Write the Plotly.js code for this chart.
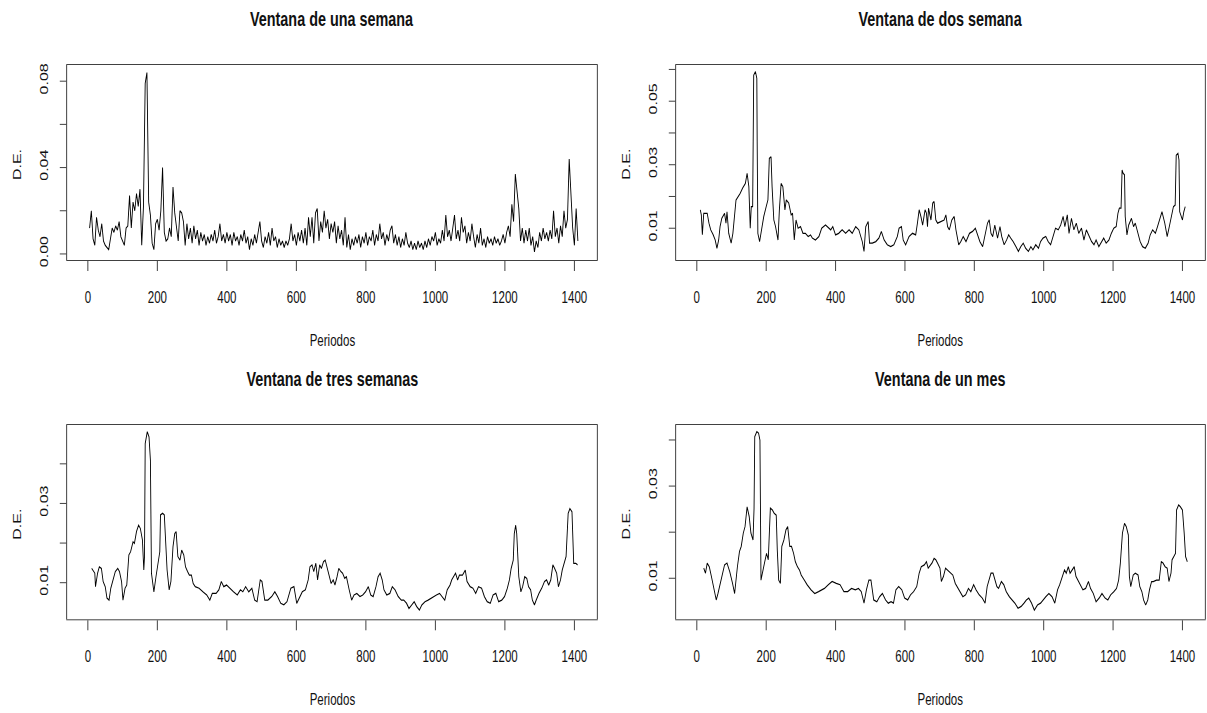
<!DOCTYPE html>
<html>
<head>
<meta charset="utf-8">
<script src="https://cdn.plot.ly/plotly-3.0.1.min.js"></script>
<style>
html, body { margin:0; padding:0; overflow:hidden; background:#fff; }
#wrap { width:1207px; height:713px; overflow:hidden; position:relative; }
#chart { position:absolute; left:0; top:0; transform-origin:0 0; }
</style>
</head>
<body>
<div id="wrap"><div id="chart"></div></div>
<script>
// ---------- DATA ----------
// Panel 1: one-week window, periods 5..1410 every 5 periods
const p1Start = 5, p1Step = 5;
const de1 = [
0.012,0.020,0.007,0.004,0.017,0.011,0.008,0.014,0.006,0.004,0.003,0.002,0.007,0.012,0.010,0.013,0.011,0.015,0.008,0.006,
0.004,0.012,0.013,0.027,0.012,0.024,0.020,0.028,0.022,0.030,0.004,0.022,0.079,0.084,0.024,0.018,0.005,0.002,0.014,0.016,
0.011,0.020,0.040,0.010,0.006,0.007,0.012,0.008,0.031,0.019,0.012,0.006,0.020,0.019,0.015,0.004,0.014,0.007,0.012,0.005,
0.013,0.007,0.011,0.004,0.010,0.006,0.009,0.004,0.008,0.005,0.009,0.006,0.011,0.005,0.008,0.014,0.006,0.009,0.005,0.010,
0.006,0.009,0.004,0.010,0.006,0.008,0.004,0.009,0.006,0.011,0.005,0.008,0.002,0.007,0.004,0.009,0.005,0.010,0.015,0.006,
0.003,0.008,0.005,0.010,0.004,0.012,0.006,0.008,0.003,0.007,0.004,0.006,0.003,0.006,0.004,0.007,0.014,0.006,0.009,0.004,
0.010,0.006,0.011,0.005,0.012,0.004,0.017,0.008,0.017,0.005,0.019,0.021,0.006,0.015,0.010,0.020,0.012,0.016,0.007,0.014,
0.010,0.015,0.005,0.013,0.007,0.011,0.004,0.017,0.003,0.009,0.002,0.007,0.004,0.008,0.005,0.009,0.003,0.008,0.005,0.010,
0.004,0.008,0.006,0.011,0.004,0.009,0.006,0.014,0.007,0.010,0.004,0.009,0.006,0.011,0.013,0.005,0.009,0.004,0.008,0.003,
0.007,0.004,0.010,0.005,0.003,0.006,0.002,0.005,0.002,0.006,0.003,0.005,0.002,0.006,0.003,0.007,0.004,0.008,0.006,0.010,
0.004,0.007,0.005,0.011,0.006,0.018,0.008,0.011,0.006,0.012,0.018,0.007,0.011,0.006,0.017,0.010,0.013,0.005,0.010,0.006,
0.014,0.008,0.003,0.009,0.005,0.012,0.004,0.007,0.003,0.008,0.005,0.007,0.004,0.008,0.005,0.007,0.004,0.006,0.009,0.005,
0.010,0.013,0.008,0.023,0.015,0.037,0.028,0.021,0.006,0.012,0.005,0.011,0.006,0.012,0.004,0.008,0.001,0.006,0.003,0.010,
0.006,0.012,0.007,0.010,0.006,0.011,0.007,0.020,0.008,0.012,0.005,0.013,0.008,0.020,0.012,0.016,0.044,0.028,0.012,0.004,
0.021,0.006
];

// Panel 2: two-week window
const per2 = [10,13,16,20,25,30,35,40,47,53,58,63,67,72,80,84,87,92,99,104,113,120,125,132,140,145,150,154,157,161,164,169,173,174,176,181,187,193,200,205,209,214,217,222,227,231,234,238,243,248,254,258,265,272,276,281,286,292,299,306,313,321,328,333,342,352,360,371,377,386,392,400,409,419,429,439,448,458,467,477,482,487,494,498,506,516,525,532,540,549,559,568,578,583,590,595,602,612,622,631,636,641,646,651,658,662,665,668,675,680,684,689,694,703,713,718,723,728,735,742,747,755,761,768,776,786,795,803,810,816,824,832,838,843,848,853,859,867,874,879,886,893,899,905,912,920,927,934,941,948,956,963,969,977,985,991,998,1006,1013,1020,1027,1034,1042,1049,1056,1061,1068,1073,1080,1087,1094,1101,1109,1116,1123,1130,1138,1145,1151,1159,1167,1173,1180,1188,1195,1202,1209,1214,1218,1223,1226,1229,1233,1235,1240,1245,1253,1259,1264,1272,1278,1285,1293,1301,1307,1314,1322,1328,1336,1341,1349,1356,1363,1370,1374,1379,1382,1387,1390,1392,1396,1400,1404,1408];
const de2 = [0.0158,0.0142,0.0080,0.0147,0.0147,0.0147,0.0116,0.0095,0.0080,0.0063,0.0037,0.0063,0.0105,0.0131,0.0147,0.0116,0.0152,0.0084,0.0053,0.0084,0.0189,0.0200,0.0210,0.0226,0.0241,0.0273,0.0231,0.0100,0.0168,0.0168,0.0582,0.0593,0.0572,0.0372,0.0084,0.0058,0.0095,0.0137,0.0168,0.0189,0.0320,0.0325,0.0231,0.0126,0.0105,0.0074,0.0063,0.0158,0.0241,0.0231,0.0158,0.0189,0.0179,0.0142,0.0147,0.0063,0.0126,0.0100,0.0105,0.0084,0.0084,0.0074,0.0079,0.0069,0.0063,0.0074,0.0100,0.0110,0.0105,0.0095,0.0105,0.0079,0.0084,0.0095,0.0084,0.0095,0.0084,0.0105,0.0095,0.0058,0.0027,0.0105,0.0121,0.0053,0.0053,0.0058,0.0069,0.0090,0.0063,0.0048,0.0042,0.0048,0.0074,0.0100,0.0105,0.0063,0.0048,0.0074,0.0084,0.0079,0.0116,0.0158,0.0137,0.0110,0.0158,0.0147,0.0105,0.0163,0.0126,0.0179,0.0184,0.0126,0.0116,0.0121,0.0126,0.0142,0.0105,0.0095,0.0126,0.0137,0.0095,0.0048,0.0058,0.0074,0.0058,0.0084,0.0090,0.0100,0.0079,0.0058,0.0042,0.0084,0.0116,0.0126,0.0084,0.0074,0.0110,0.0069,0.0105,0.0074,0.0048,0.0063,0.0079,0.0069,0.0058,0.0042,0.0027,0.0042,0.0053,0.0037,0.0027,0.0042,0.0032,0.0048,0.0037,0.0058,0.0069,0.0074,0.0058,0.0048,0.0074,0.0100,0.0095,0.0110,0.0137,0.0105,0.0142,0.0084,0.0131,0.0095,0.0116,0.0084,0.0100,0.0063,0.0095,0.0079,0.0058,0.0048,0.0063,0.0042,0.0058,0.0069,0.0053,0.0063,0.0084,0.0100,0.0105,0.0147,0.0163,0.0163,0.0283,0.0273,0.0268,0.0137,0.0079,0.0110,0.0131,0.0105,0.0116,0.0084,0.0058,0.0042,0.0037,0.0053,0.0079,0.0095,0.0084,0.0105,0.0137,0.0152,0.0116,0.0074,0.0110,0.0147,0.0168,0.0173,0.0330,0.0336,0.0315,0.0152,0.0137,0.0126,0.0152,0.0168];

// Panel 3: three-week window
const per3 = [11,20,22,28,33,39,44,50,55,61,66,73,79,86,91,97,101,107,112,118,123,130,134,140,146,151,157,161,163,165,171,176,180,183,190,196,202,207,209,215,220,224,228,234,239,245,250,254,259,265,270,276,281,287,292,298,303,309,320,331,342,351,358,369,377,384,391,399,408,419,430,439,446,454,463,472,480,487,496,501,509,518,529,538,546,555,564,573,584,593,601,609,617,626,634,639,645,650,656,661,667,672,678,683,689,695,700,706,711,717,722,728,733,739,744,752,759,766,774,783,791,799,807,814,821,829,835,841,847,852,860,869,876,884,893,902,909,917,924,932,939,946,954,961,970,979,987,994,1003,1012,1020,1027,1034,1042,1047,1053,1058,1064,1069,1078,1086,1091,1100,1108,1116,1124,1133,1141,1149,1158,1166,1174,1182,1191,1199,1207,1213,1218,1224,1227,1231,1234,1237,1240,1246,1251,1257,1263,1268,1274,1279,1285,1290,1298,1306,1314,1320,1326,1332,1338,1343,1349,1354,1360,1365,1371,1376,1382,1387,1393,1398,1404,1409];
const de3 = [0.0136,0.0124,0.0090,0.0124,0.0140,0.0136,0.0103,0.0090,0.0061,0.0056,0.0086,0.0111,0.0128,0.0136,0.0128,0.0103,0.0056,0.0086,0.0094,0.0170,0.0178,0.0203,0.0199,0.0229,0.0245,0.0237,0.0208,0.0132,0.0166,0.0451,0.0481,0.0468,0.0409,0.0124,0.0077,0.0115,0.0149,0.0178,0.0271,0.0275,0.0271,0.0208,0.0132,0.0082,0.0103,0.0191,0.0224,0.0229,0.0166,0.0157,0.0182,0.0170,0.0140,0.0128,0.0119,0.0119,0.0098,0.0090,0.0086,0.0077,0.0069,0.0056,0.0073,0.0073,0.0082,0.0103,0.0090,0.0094,0.0086,0.0077,0.0069,0.0082,0.0077,0.0090,0.0077,0.0086,0.0056,0.0052,0.0107,0.0103,0.0056,0.0056,0.0065,0.0077,0.0065,0.0048,0.0044,0.0052,0.0086,0.0090,0.0048,0.0061,0.0077,0.0082,0.0107,0.0140,0.0145,0.0128,0.0149,0.0107,0.0145,0.0136,0.0153,0.0157,0.0136,0.0115,0.0098,0.0107,0.0094,0.0115,0.0136,0.0128,0.0124,0.0111,0.0115,0.0082,0.0056,0.0069,0.0073,0.0065,0.0069,0.0077,0.0090,0.0069,0.0065,0.0090,0.0115,0.0124,0.0107,0.0082,0.0069,0.0073,0.0090,0.0082,0.0065,0.0056,0.0056,0.0048,0.0035,0.0044,0.0052,0.0040,0.0031,0.0044,0.0052,0.0056,0.0061,0.0065,0.0069,0.0073,0.0065,0.0056,0.0082,0.0094,0.0107,0.0115,0.0124,0.0107,0.0119,0.0119,0.0132,0.0103,0.0090,0.0086,0.0073,0.0090,0.0086,0.0065,0.0052,0.0048,0.0069,0.0073,0.0052,0.0056,0.0065,0.0086,0.0107,0.0136,0.0157,0.0224,0.0245,0.0224,0.0166,0.0115,0.0077,0.0090,0.0115,0.0111,0.0090,0.0082,0.0056,0.0044,0.0056,0.0073,0.0086,0.0103,0.0107,0.0094,0.0107,0.0145,0.0136,0.0124,0.0090,0.0107,0.0132,0.0153,0.0166,0.0275,0.0287,0.0279,0.0149,0.0149,0.0145];

// Panel 4: one-month window
const per4 = [20,25,30,36,42,50,56,61,67,75,80,87,95,103,109,117,123,128,134,139,145,151,156,162,165,167,173,178,182,185,190,195,201,206,212,218,223,229,232,236,241,245,251,257,262,268,273,279,284,290,296,301,310,318,329,340,351,359,368,379,390,402,413,424,435,446,457,466,474,482,489,496,502,510,519,527,535,544,552,560,567,574,582,591,599,608,616,625,634,641,647,656,662,667,673,678,684,689,694,701,705,711,717,723,731,738,745,753,761,767,775,783,790,798,805,814,823,831,837,842,848,854,859,865,870,878,885,892,901,909,917,926,935,943,950,957,965,973,982,991,998,1006,1015,1024,1032,1040,1046,1054,1060,1065,1071,1076,1082,1088,1093,1099,1104,1113,1121,1129,1135,1143,1151,1160,1168,1177,1185,1193,1202,1210,1216,1221,1227,1233,1238,1244,1247,1251,1258,1264,1272,1277,1283,1288,1294,1300,1305,1311,1316,1325,1333,1339,1344,1350,1356,1361,1367,1370,1375,1380,1383,1389,1394,1400,1405,1409,1414];
const de4 = [0.0122,0.0111,0.0133,0.0125,0.0104,0.0075,0.0053,0.0067,0.0086,0.0111,0.0129,0.0133,0.0114,0.0089,0.0067,0.0125,0.0158,0.0169,0.0198,0.0212,0.0255,0.0234,0.0198,0.0183,0.0252,0.0407,0.0418,0.0415,0.0400,0.0096,0.0118,0.0133,0.0154,0.0140,0.0252,0.0248,0.0241,0.0237,0.0161,0.0096,0.0089,0.0169,0.0183,0.0205,0.0212,0.0169,0.0169,0.0154,0.0136,0.0125,0.0118,0.0107,0.0096,0.0086,0.0075,0.0067,0.0071,0.0075,0.0078,0.0086,0.0093,0.0089,0.0086,0.0071,0.0071,0.0078,0.0075,0.0078,0.0071,0.0046,0.0075,0.0096,0.0096,0.0053,0.0049,0.0060,0.0067,0.0053,0.0046,0.0049,0.0046,0.0075,0.0082,0.0075,0.0057,0.0053,0.0064,0.0071,0.0082,0.0111,0.0125,0.0129,0.0136,0.0122,0.0129,0.0133,0.0143,0.0140,0.0133,0.0122,0.0093,0.0104,0.0122,0.0118,0.0111,0.0107,0.0089,0.0078,0.0067,0.0060,0.0064,0.0078,0.0071,0.0086,0.0075,0.0064,0.0057,0.0046,0.0082,0.0096,0.0111,0.0111,0.0096,0.0082,0.0078,0.0093,0.0086,0.0071,0.0060,0.0053,0.0046,0.0035,0.0039,0.0046,0.0053,0.0057,0.0046,0.0031,0.0042,0.0046,0.0053,0.0060,0.0067,0.0060,0.0046,0.0075,0.0086,0.0104,0.0118,0.0111,0.0125,0.0111,0.0118,0.0125,0.0104,0.0096,0.0089,0.0075,0.0078,0.0093,0.0078,0.0067,0.0049,0.0057,0.0067,0.0057,0.0053,0.0064,0.0071,0.0078,0.0096,0.0133,0.0198,0.0219,0.0212,0.0194,0.0104,0.0082,0.0107,0.0111,0.0107,0.0082,0.0071,0.0053,0.0042,0.0053,0.0075,0.0093,0.0093,0.0096,0.0096,0.0136,0.0133,0.0125,0.0122,0.0093,0.0111,0.0140,0.0147,0.0154,0.0248,0.0259,0.0255,0.0248,0.0198,0.0147,0.0136];

// Titles and tick labels
const titles = ["Ventana de una semana", "Ventana de dos semana", "Ventana de tres semanas", "Ventana de un mes"];
const xLabel = "Periodos", yLabel = "D.E.";
const xTicks = [0,200,400,600,800,1000,1200,1400];
const yTicks1 = [0,0.02,0.04,0.06,0.08], yText1 = ["0.00","","0.04","","0.08"];
const yTicks2 = [0.01,0.02,0.03,0.04,0.05,0.06], yText2 = ["0.01","","0.03","","0.05",""];
const yTicks3 = [0.01,0.02,0.03,0.04], yText3 = ["0.01","","0.03",""];
const yTicks4 = [0.01,0.02,0.03,0.04], yText4 = ["0.01","","0.03",""];

// ---------- LAYOUT ----------
const RW = 1207, RH = 713;          // picture size
const SQ = 0.72;                    // horizontal squeeze of the original picture
const VW = Math.round(RW / SQ);     // virtual drawing width
const sx = RW / VW;
document.getElementById('chart').style.transform = 'scaleX(' + sx + ')';

const FONT = 'Liberation Sans, Arial, Helvetica, sans-serif';
const boxes = [ // [left, right, top, bottom] in picture pixels
  [67, 597, 65, 260],
  [676, 1205, 65, 260],
  [67, 597, 425, 619.3],
  [676, 1205, 425, 619.3]
];
const yRanges = [[-0.0028, 0.0875], [0.0000, 0.0614], [0.00076, 0.0498], [0.0011, 0.04325]];
const yT = [[yTicks1, yText1], [yTicks2, yText2], [yTicks3, yText3], [yTicks4, yText4]];

const line = {color: '#000', width: 1.25};
const traces = [
  {type:'scatter', mode:'lines', x0:p1Start, dx:p1Step, y:de1, line:line, xaxis:'x', yaxis:'y', hoverinfo:'skip'},
  {type:'scatter', mode:'lines', x:per2, y:de2, line:line, xaxis:'x2', yaxis:'y2', hoverinfo:'skip'},
  {type:'scatter', mode:'lines', x:per3, y:de3, line:line, xaxis:'x3', yaxis:'y3', hoverinfo:'skip'},
  {type:'scatter', mode:'lines', x:per4, y:de4, line:line, xaxis:'x4', yaxis:'y4', hoverinfo:'skip'}
];

const layout = {
  width: VW, height: RH,
  margin: {l:0, r:0, t:0, b:0, pad:0},
  paper_bgcolor: '#fff', plot_bgcolor: '#fff',
  showlegend: false,
  font: {family: FONT, color: '#111', size: 16},
  annotations: []
};

boxes.forEach((b, i) => {
  const n = i === 0 ? '' : String(i + 1);
  const xd = [b[0] / RW, b[1] / RW];
  const yd = [1 - b[3] / RH, 1 - b[2] / RH];
  layout['xaxis' + n] = {
    domain: xd, anchor: 'y' + n, range: [-60, 1465],
    tickmode: 'array', tickvals: xTicks, ticktext: xTicks.map(String),
    ticks: 'outside', ticklen: 10, tickwidth: 1, tickcolor: '#222',
    ticklabelstandoff: 13,
    showline: true, mirror: true, linecolor: '#222', linewidth: 1,
    showgrid: false, zeroline: false, fixedrange: true,
    tickfont: {family: FONT, size: 16, color: '#111'}
  };
  layout['yaxis' + n] = {
    domain: yd, anchor: 'x' + n, range: yRanges[i],
    tickmode: 'array', tickvals: yT[i][0], ticktext: yT[i][1],
    ticks: 'outside', ticklen: 9, tickwidth: 1, tickcolor: '#222',
    tickangle: -90, ticklabelstandoff: 10,
    showline: true, mirror: true, linecolor: '#222', linewidth: 1,
    showgrid: false, zeroline: false, fixedrange: true,
    tickfont: {family: FONT, size: 16, color: '#111'}
  };
  const cx = (b[0] + b[1]) / 2 / RW;
  // main title
  layout.annotations.push({
    text: '<b>' + titles[i] + '</b>', xref: 'paper', yref: 'paper',
    x: cx, y: 1 - (b[2] - 46) / RH, xanchor: 'center', yanchor: 'middle',
    showarrow: false, font: {family: FONT, size: 20, color: '#111'}
  });
  // x label
  layout.annotations.push({
    text: xLabel, xref: 'paper', yref: 'paper',
    x: cx, y: 1 - (b[3] + 80) / RH, xanchor: 'center', yanchor: 'middle',
    showarrow: false, font: {family: FONT, size: 16, color: '#111'}
  });
  // y label
  layout.annotations.push({
    text: yLabel, xref: 'paper', yref: 'paper',
    x: (b[0] - 50) / RW, y: 1 - ((b[2] + b[3]) / 2 + 2) / RH, xanchor: 'center', yanchor: 'middle',
    textangle: -90, showarrow: false, font: {family: FONT, size: 16, color: '#111'}
  });
});

Plotly.newPlot('chart', traces, layout, {displayModeBar: false, staticPlot: true});
</script>
</body>
</html>
